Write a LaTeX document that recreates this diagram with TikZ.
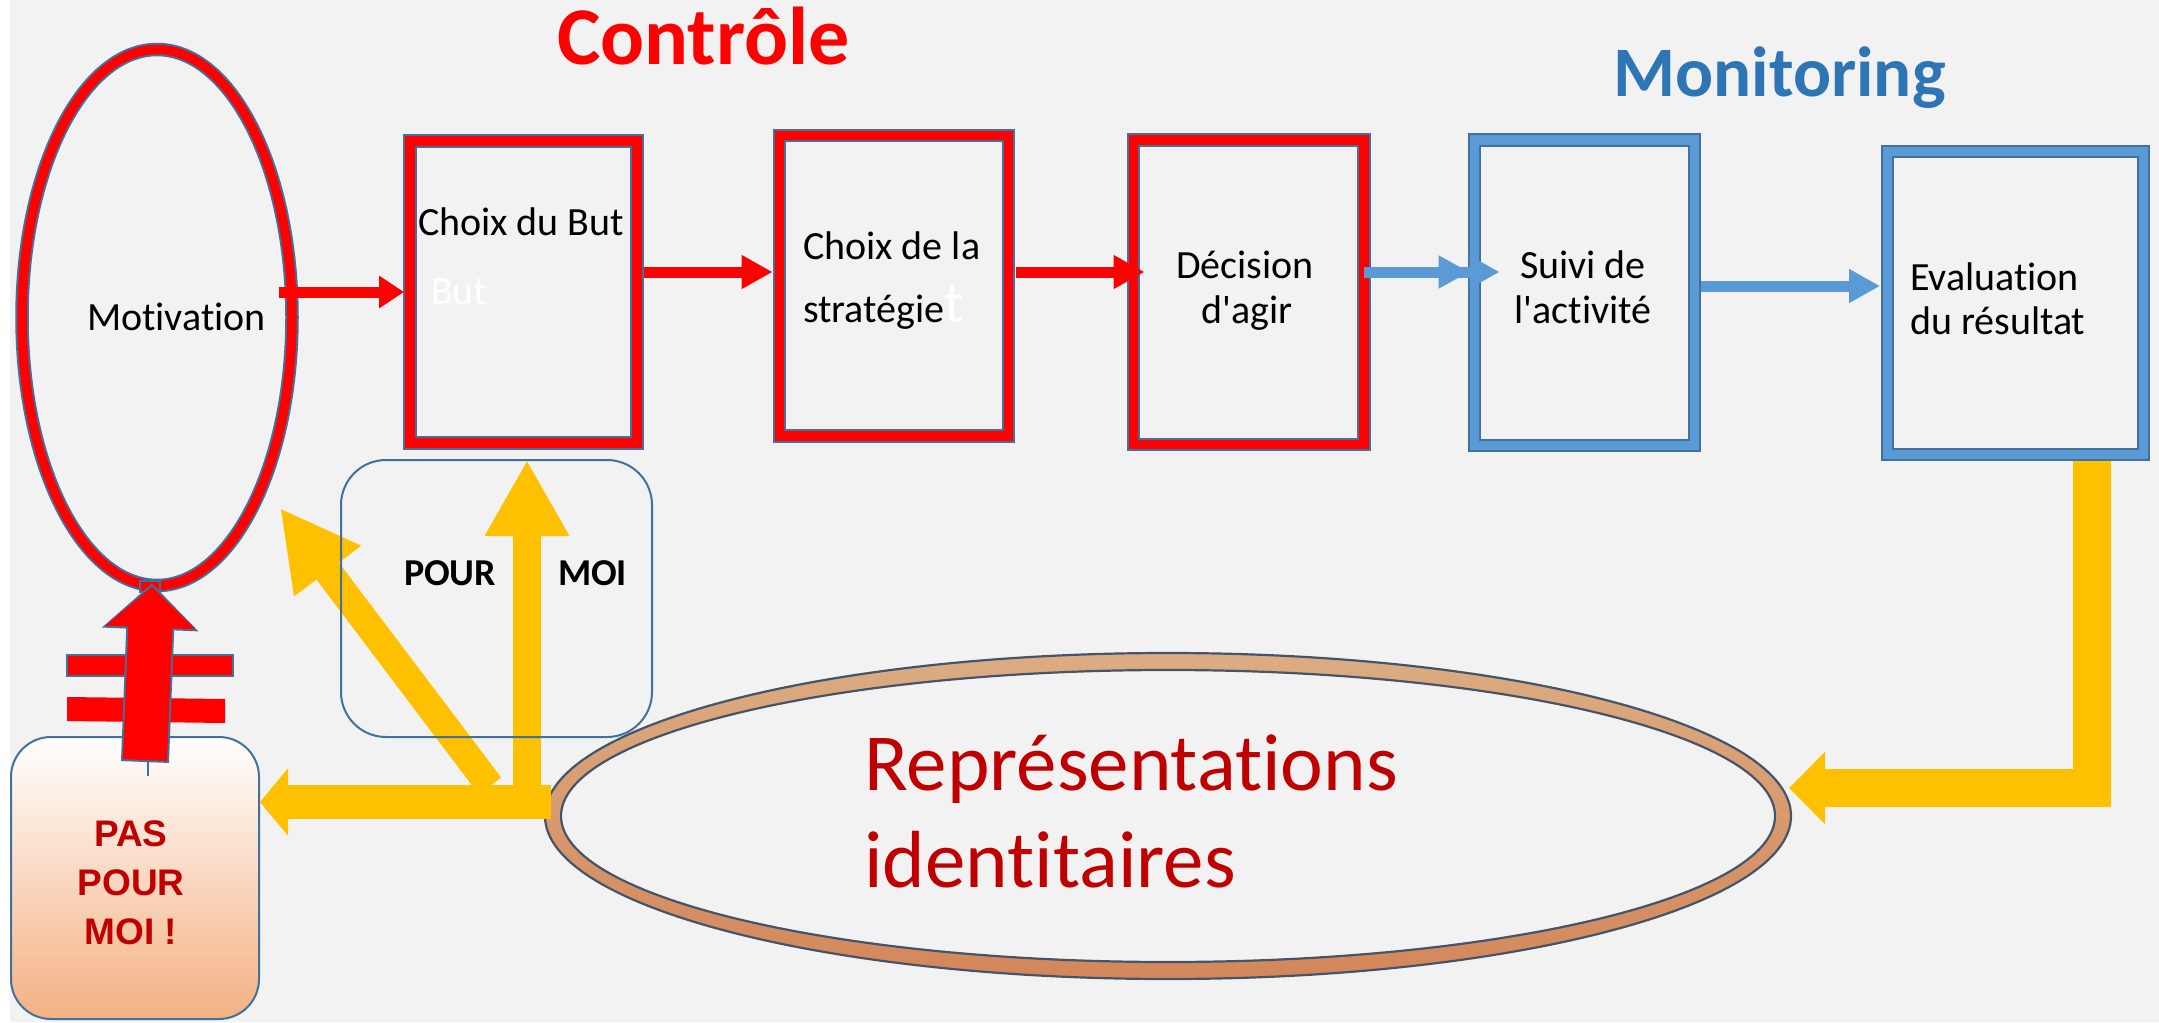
\documentclass[tikz,border=0pt]{standalone}
\usepackage{fontspec}
\setmainfont{Carlito}[Ligatures={TeXOff,NoCommon}]
\newfontfamily\arialfont{Liberation Sans}
\usetikzlibrary{arrows.meta,shapes.geometric}

\definecolor{bgray}{HTML}{F2F2F2}
\definecolor{edgeblue}{HTML}{41719C}
\definecolor{bandblue}{HTML}{5B9BD5}
\definecolor{titleblue}{HTML}{2E75B6}
\definecolor{amber}{HTML}{FFC000}
\definecolor{darkred}{HTML}{C00000}
\definecolor{tanlight}{HTML}{DCAC82}
\definecolor{tandark}{HTML}{D3875A}
\definecolor{ringedge}{HTML}{44546A}
\definecolor{peach}{HTML}{F4B183}

\begin{document}
\begin{tikzpicture}[x=1pt,y=-1pt,
  redframe/.style={rectangle, draw=edgeblue, line width=2pt, double=red, double distance=9.5pt, inner sep=0pt, outer sep=0pt},
  blueframe/.style={rectangle, draw=edgeblue, line width=2pt, double=bandblue, double distance=9pt, inner sep=0pt, outer sep=0pt},
  lbl/.style={inner sep=0pt, outer sep=0pt, font=\fontsize{40}{47}\selectfont},
  boldlbl/.style={inner sep=0pt, outer sep=0pt, font=\bfseries\fontsize{38}{44}\selectfont},
  paslbl/.style={anchor=base, inner sep=0pt, text=darkred, font=\arialfont\bfseries\fontsize{37}{44}\selectfont},
  replbl/.style={anchor=base west, inner sep=0pt, text=darkred, font=\fontsize{81}{97}\selectfont},
  redarrow/.style={draw=red, line width=11pt, -{Triangle[length=31pt,width=32pt]}},
  bluearrow/.style={draw=bandblue, line width=11pt, -{Triangle[length=31pt,width=32pt]}},
]
% canvas
\fill[white] (0,0) rectangle (2159,1022);
\fill[bgray] (10,0) rectangle (2159,1022);
\useasboundingbox (0,0) rectangle (2159,1022);

% lanes for the horizontal connectors
\coordinate (lane1) at (0,272);
\coordinate (lane2) at (0,286);

% motivation ellipse
\node[ellipse, draw=edgeblue, line width=2pt, double=red, double distance=9.5pt,
      minimum width=270pt, minimum height=536pt, inner sep=0pt, outer sep=0pt] (mot) at (157,317.5) {};

% process boxes
\node[redframe, minimum width=227pt, minimum height=302pt] (b1) at (523.5,292) {};
\node[redframe, minimum width=229pt, minimum height=300.5pt] (b2) at (894,285.75) {};
\node[redframe, minimum width=230.5pt, minimum height=304.5pt] (b3) at (1248.75,292.25) {};
\node[blueframe, minimum width=220pt, minimum height=305pt] (b4) at (1584.5,292.5) {};
\node[blueframe, minimum width=256.5pt, minimum height=303.5pt] (b5) at (2015.25,302.75) {};

% identity representations ring
\node[ellipse, minimum width=1230pt, minimum height=309pt, inner sep=0pt, outer sep=0pt] (rep) at (1168,816) {};
\shade[top color=tanlight, bottom color=tandark, even odd rule]
  (rep.center) ellipse [x radius=623pt, y radius=163pt]
  (rep.center) ellipse [x radius=607pt, y radius=146pt];
\draw[ringedge, line width=2.2pt] (rep.center) ellipse [x radius=623pt, y radius=163pt];
\draw[ringedge, line width=2.2pt] (rep.center) ellipse [x radius=607pt, y radius=146pt];

% titles
\node[anchor=base west, inner sep=0pt, text=red, font=\bfseries\fontsize{82}{90}\selectfont] (ttlctl) at (557,65) {Contrôle};
\node[anchor=base west, inner sep=0pt, text=titleblue, font=\bfseries\fontsize{71}{80}\selectfont] (ttlmon) at (1613,97) {Monitoring};

% box labels
\node[lbl, anchor=base west] (motlbl) at (87,330) {Motivation};
\node[lbl, anchor=base west] (t1) at (418,235) {Choix du But};
\node[lbl, anchor=base west, text=white] (t1w) at (431,304) {But};
\node[lbl, anchor=base west] (t2a) at (803,259) {Choix de la};
\node[lbl, anchor=base west] (t2b) at (803,322) {stratégie\textcolor{white}{\fontsize{58}{60}\selectfont t}};
\node[lbl, anchor=base] (t3a) at (1245,278) {Décision};
\node[lbl, anchor=base] (t3b) at (1247,323) {d'agir};
\node[lbl, anchor=base] (t4a) at (1583,278) {Suivi de};
\node[lbl, anchor=base] (t4b) at (1583,323) {l'activité};
\node[lbl, anchor=base west] (t5a) at (1910,290) {Evaluation};
\node[lbl, anchor=base west] (t5b) at (1910,334) {du résultat};

\node[replbl] (rep1) at (864,790) {Représentations};
\node[replbl] (rep2) at (864,887) {identitaires};

% "pour moi" frame (outline drawn later, above the arrows)
\node[minimum width=311pt, minimum height=277pt, inner sep=0pt, outer sep=0pt] (pm) at (496.5,598.5) {};
\node[boldlbl, anchor=base west] (pour) at (404,585) {POUR};
\node[boldlbl, anchor=base west] (moi) at (558,585) {MOI};

% "pas pour moi" box
\node[draw=edgeblue, line width=2pt, rounded corners=40pt, top color=white, bottom color=peach,
      minimum width=248pt, minimum height=282pt, inner sep=0pt, outer sep=0pt] (pas) at (135,878) {};
\node[paslbl] (pas1) at (131,846) {PAS};
\node[paslbl] (pas2) at (131,895) {POUR};
\node[paslbl] (pas3) at (131,944) {MOI !};

% control chain
\draw[redarrow, -{Triangle[length=25pt,width=31pt]}] ([xshift=-13pt]mot.east |- b1.west) -- ([xshift=-6pt]b1.west);
\draw[redarrow] ([xshift=7pt]b1.east |- lane1) -- ([xshift=-7pt]b2.west |- lane1);
\draw[redarrow] ([xshift=7pt]b2.east |- lane1) -- ([xshift=11pt]b3.west |- lane1);
% monitoring chain
\draw[bluearrow, -{Triangle[length=31pt,width=31pt]Triangle[length=30pt,width=31pt]}] (b3.east |- lane1) -- ([xshift=25pt]b4.west |- lane1);
\draw[bluearrow] ([xshift=6pt]b4.east |- lane2) -- ([xshift=-7pt]b5.west |- lane2);

% feedback from the evaluation to the representations
\coordinate (evalbend) at (2092,788);
\draw[amber, line width=38pt, line join=miter, -{Triangle[length=36pt,width=70pt]}]
  ([yshift=-6.5pt]b5.south -| evalbend) -- (evalbend) -- ([xshift=6pt]rep.east |- evalbend);

% outputs of the representations
\coordinate (hub) at (551,802);
\coordinate (upfoot) at (527,802);
\coordinate (diagfoot) at (490,786);
\coordinate (diagtip) at (280,508);
\draw[amber, line width=34pt, -{Triangle[length=28pt,width=66pt]}] (hub) -- ([xshift=1pt]pas.east |- hub);
\draw[amber, line width=28pt, -{Triangle[length=76pt,width=79pt]}] (upfoot) -- (pm.north -| upfoot);
\draw[amber, line width=28pt, -{Triangle[length=79pt,width=78pt]}] (diagfoot) -- (diagtip);

\draw[edgeblue, line width=2pt, rounded corners=45pt] (pm.south west) rectangle (pm.north east);

% crossed-out link from "pas pour moi" to the motivation
\filldraw[fill=red, draw=edgeblue, line width=1.5pt] (67,655) rectangle (233,676);
\fill[red] (67,697) -- (225,699) -- (225,723) -- (67,721) -- cycle;
\draw[edgeblue, line width=1.5pt] ([xshift=13pt,yshift=-24pt]pas.north) -- ++(0,15);
\node[draw=edgeblue, fill=red, line width=1.5pt, minimum width=20pt, minimum height=11pt, inner sep=0pt] (motport) at ([xshift=-7pt,yshift=-1pt]mot.south) {};
\draw[edgeblue, line width=48pt, -{Triangle[length=46pt,width=94pt]}] ([xshift=10pt,yshift=-25pt]pas.north) -- ([xshift=-5pt,yshift=2pt]mot.south);
\draw[red, line width=44pt, -{Triangle[length=41pt,width=88pt]}] ([xshift=10pt,yshift=-23pt]pas.north) -- ([xshift=-5pt,yshift=-1pt]mot.south);
\end{tikzpicture}
\end{document}
